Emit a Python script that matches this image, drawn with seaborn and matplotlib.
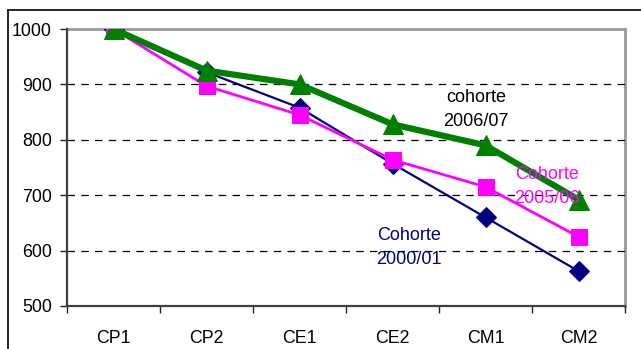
import matplotlib
matplotlib.use("Agg")
import matplotlib.pyplot as plt
from matplotlib.lines import Line2D
import seaborn as sns
import pandas as pd

# Niveaux scolaires et effectifs (base 1000 en CP1) pour trois cohortes
niveaux = ["CP1", "CP2", "CE1", "CE2", "CM1", "CM2"]
cohorte_2000 = [1000, 922, 858, 757, 660, 563]
cohorte_2005 = [1000, 897, 845, 764, 715, 625]
cohorte_2006 = [1000, 925, 900, 828, 790, 692]
y_ticks = [500, 600, 700, 800, 900, 1000]

sns.set_theme(style="white")
plt.rcParams["font.family"] = ["Liberation Sans", "DejaVu Sans"]

fig = plt.figure(figsize=(6.41, 3.49), dpi=100)
ax = fig.add_axes([67 / 641, 1 - 306 / 349, (625 - 67) / 641, (306 - 29) / 349])

series = [
    ("Cohorte 2000/01", cohorte_2000, "#000080", 1.6, "D", 10.5, 2),
    ("Cohorte 2005/06", cohorte_2005, "#FF00FF", 2.0, "s", 11, 3),
    ("cohorte 2006/07", cohorte_2006, "#008000", 4.5, "^", 15, 4),
]
for name, vals, color, lw, marker, ms, z in series:
    df = pd.DataFrame({"niveau": niveaux, "effectif": vals})
    sns.lineplot(data=df, x="niveau", y="effectif", ax=ax, color=color,
                 linewidth=lw, marker=marker, markersize=ms,
                 markeredgecolor=color, markerfacecolor=color, zorder=z,
                 sort=False)

ax.set_xlim(-0.5, len(niveaux) - 0.5)
ax.set_ylim(500, 1000)
ax.set_yticks(y_ticks)
ax.set_yticklabels([str(v) for v in y_ticks])
ax.set_xticks(range(len(niveaux)))
ax.set_xticklabels(niveaux, fontsize=12.8)
ax.set_xticks([i - 0.5 for i in range(len(niveaux) + 1)], minor=True)
ax.set_xlabel("")
ax.set_ylabel("")

for v in y_ticks[1:-1]:
    ax.axhline(v, color="black", linewidth=0.9, linestyle=(0, (6, 5)), zorder=1)

ax.tick_params(axis="x", which="major", length=0, pad=17, colors="black")
ax.tick_params(axis="x", which="minor", bottom=True, length=5, width=1,
               color="#222222")
ax.tick_params(axis="y", which="major", left=True, length=5, width=1,
               pad=6, labelsize=12.75, color="#222222", labelcolor="black")

for side in ("left", "bottom"):
    ax.spines[side].set_color("#404040")
    ax.spines[side].set_linewidth(1.6)
for side in ("top", "right"):
    ax.spines[side].set_color("#999999")
    ax.spines[side].set_linewidth(2.0)
    ax.spines[side].set_zorder(0.5)

label_style = dict(fontsize=13, ha="center", va="center",
                   linespacing=1.55, zorder=5)
ax.text(3.90, 854, "cohorte\n2006/07", color="black", **label_style)
ax.text(4.66, 715, "Cohorte\n2005/06", color="#FF00FF", **label_style)
ax.text(3.18, 605, "Cohorte\n2000/01", color="#000080", **label_style)

if ax.get_legend() is not None:
    ax.get_legend().remove()

# cadre extérieur de la zone graphique
fig.add_artist(Line2D([8 / 641, 8 / 641], [0, 1 - 10 / 349], color="black",
                      linewidth=1.2, transform=fig.transFigure))
fig.add_artist(Line2D([8 / 641, 1], [1 - 10 / 349, 1 - 10 / 349], color="black",
                      linewidth=1.2, transform=fig.transFigure))

fig.savefig("out.png", dpi=100)
